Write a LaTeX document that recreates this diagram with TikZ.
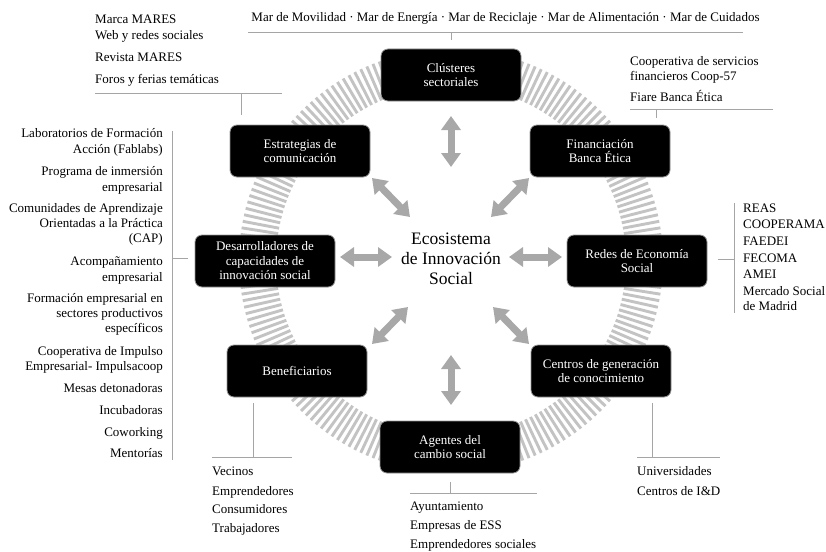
\documentclass[tikz,border=0pt]{standalone}
\usepackage{fontspec}
\setmainfont{Liberation Serif}
\usetikzlibrary{arrows.meta}
\definecolor{stripegray}{RGB}{195,195,195}
\definecolor{arrowgray}{RGB}{168,168,168}
\definecolor{linegray}{RGB}{165,165,165}
\definecolor{boxedge}{RGB}{150,150,150}
\begin{document}
\begin{tikzpicture}[x=1pt,y=-1pt,
  box/.style={fill=black, draw=boxedge, line width=0.8pt, rounded corners=7pt,
    minimum width=140pt, minimum height=52pt, text=white, align=center,
    inner sep=2pt, font=\fontsize{13}{14.5}\selectfont},
  listtxt/.style={inner sep=0pt, font=\fontsize{13}{16}\selectfont},
  ringstripe/.style={draw=stripegray, line width=2.9pt},
  bigarrow/.style={draw=arrowgray, line width=7pt,
    {Triangle[width=19pt,length=14pt]}-{Triangle[width=19pt,length=14pt]}},
  conn/.style={draw=linegray, line width=0.8pt}]
\path[use as bounding box] (0,0) rectangle (826,551);

% ring
\coordinate (ring) at (451,261);
\foreach \a in {0,1.8,...,359}
  \draw[ringstripe] ([shift={(\a:175)}]ring) -- ([shift={(\a:212)}]ring);

% boxes
\node[box] (clu) at (451,75) {Clústeres\\sectoriales};
\node[box] (est) at (300,151) {Estrategias de\\comunicación};
\node[box] (fin) at (600,151) {Financiación\\Banca Ética};
\node[box] (des) at (265,261) {Desarrolladores de\\capacidades de\\innovación social};
\node[box] (red) at (637,261) {Redes de Economía\\Social};
\node[box] (ben) at (297,371) {Beneficiarios};
\node[box] (cen) at (601,371) {Centros de generación\\de conocimiento};
\node[box] (age) at (450,447) {Agentes del\\cambio social};

% centre
\node[align=center, inner sep=0pt, font=\fontsize{17.5}{20}\selectfont] (eco) at (451,259)
  {Ecosistema\\de Innovación\\Social};

% arrows
\coordinate (a1) at (451,116); \coordinate (b1) at (451,167);
\coordinate (a2) at (372,178); \coordinate (b2) at (410,217);
\coordinate (a3) at (529,178); \coordinate (b3) at (491,217);
\coordinate (a4) at (340,257); \coordinate (b4) at (392,257);
\coordinate (a5) at (562,257); \coordinate (b5) at (509,257);
\coordinate (a6) at (372,344); \coordinate (b6) at (408,307);
\coordinate (a7) at (529,344); \coordinate (b7) at (493,307);
\coordinate (a8) at (451,405); \coordinate (b8) at (451,355);
\foreach \k in {1,...,8} \draw[bigarrow] (a\k) -- (b\k);

% top list
\node[listtxt, anchor=base] (toptxt) at (505.5,22)
  {Mar de Movilidad · Mar de Energía · Mar de Reciclaje · Mar de Alimentación · Mar de Cuidados};
\coordinate (topL) at (248,32); \coordinate (topR) at (743,32);
\coordinate (topT) at (451,32); \coordinate (topB) at (451,40);
\draw[conn] (topL) -- (topR);
\draw[conn] (topT) -- (topB);

% top-left list
\foreach \txt/\yy [count=\i] in {Marca MARES/24, Web y redes sociales/40, Revista MARES/62, Foros y ferias temáticas/83}
  \node[listtxt, anchor=base west] (tl\i) at (95,\yy) {\txt};
\coordinate (tlL) at (95,93); \coordinate (tlR) at (282,93);
\coordinate (tlT) at (241,93); \coordinate (tlB) at (241,115);
\draw[conn] (tlL) -- (tlR);
\draw[conn] (tlT) -- (tlB);

% top-right list
\foreach \txt/\yy [count=\i] in {Cooperativa de servicios/65, financieros Coop-57/80, Fiare Banca Ética/101}
  \node[listtxt, anchor=base west] (tr\i) at (630,\yy) {\txt};
\coordinate (trL) at (630,109); \coordinate (trR) at (773,109);
\coordinate (trT) at (656,109); \coordinate (trB) at (656,118);
\draw[conn] (trL) -- (trR);
\draw[conn] (trT) -- (trB);

% left list
\foreach \txt/\yy [count=\i] in {Laboratorios de Formación/137, Acción (Fablabs)/153,
  Programa de inmersión/175, empresarial/191,
  Comunidades de Aprendizaje/212, Orientadas a la Práctica/227, (CAP)/242,
  Acompañamiento/265, empresarial/281,
  Formación empresarial en/302, sectores productivos/317, específicos/332,
  Cooperativa de Impulso/355, Empresarial- Impulsacoop/370,
  Mesas detonadoras/392, Incubadoras/414, Coworking/436, Mentorías/457}
  \node[listtxt, anchor=base east] (ll\i) at (163,\yy) {\txt};
\coordinate (llT) at (172,131); \coordinate (llB) at (172,460);
\coordinate (llM) at (172,258); \coordinate (llE) at (188,258);
\draw[conn] (llT) -- (llB);
\draw[conn] (llM) -- (llE);

% right list
\foreach \txt/\yy [count=\i] in {REAS/212, COOPERAMA/228, FAEDEI/245, FECOMA/262, AMEI/278, Mercado Social/295, de Madrid/310}
  \node[listtxt, anchor=base west] (rl\i) at (743,\yy) {\txt};
\coordinate (rlT) at (734,203); \coordinate (rlB) at (734,313);
\coordinate (rlM) at (734,259); \coordinate (rlE) at (718,259);
\draw[conn] (rlT) -- (rlB);
\draw[conn] (rlM) -- (rlE);

% bottom-left list
\foreach \txt/\yy [count=\i] in {Vecinos/475, Emprendedores/495, Consumidores/513, Trabajadores/532}
  \node[listtxt, anchor=base west] (bl\i) at (212,\yy) {\txt};
\coordinate (blL) at (212,457); \coordinate (blR) at (292,457);
\coordinate (blT) at (253,403); \coordinate (blB) at (253,457);
\draw[conn] (blL) -- (blR);
\draw[conn] (blT) -- (blB);

% bottom-middle list
\foreach \txt/\yy [count=\i] in {Ayuntamiento/510, Empresas de ESS/529, Emprendedores sociales/548}
  \node[listtxt, anchor=base west] (bm\i) at (410,\yy) {\txt};
\coordinate (bmL) at (410,493); \coordinate (bmR) at (537,493);
\coordinate (bmT) at (450,482); \coordinate (bmB) at (450,493);
\draw[conn] (bmL) -- (bmR);
\draw[conn] (bmT) -- (bmB);

% bottom-right list
\node[listtxt, anchor=base west] (br1) at (637,475) {Universidades};
\node[listtxt, anchor=base west] (br2) at (637,495) {Centros de I\&D};
\coordinate (brL) at (637,457); \coordinate (brR) at (720,457);
\coordinate (brT) at (652,403); \coordinate (brB) at (652,457);
\draw[conn] (brL) -- (brR);
\draw[conn] (brT) -- (brB);
\end{tikzpicture}
\end{document}
